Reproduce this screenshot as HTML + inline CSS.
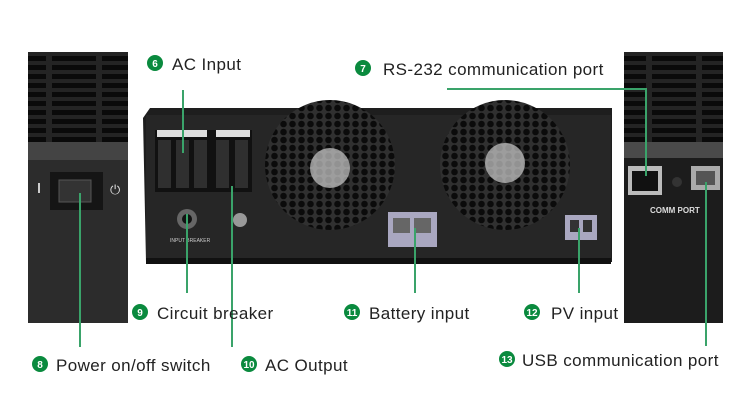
<!DOCTYPE html>
<html><head><meta charset="utf-8"><style>
body{margin:0;width:750px;height:400px;background:#fff;overflow:hidden;position:relative;font-family:"Liberation Sans",sans-serif}
</style></head><body>
<svg width="750" height="400" viewBox="0 0 750 400" xmlns="http://www.w3.org/2000/svg" style="position:absolute;left:0;top:0">
<defs>
<pattern id="hex" width="9" height="8" patternUnits="userSpaceOnUse">
<rect width="9" height="8" fill="#303030"/>
<circle cx="4.5" cy="4" r="3.3" fill="#0b0b0b"/>
</pattern>
<pattern id="grille" width="50" height="9" patternUnits="userSpaceOnUse">
<rect width="50" height="9" fill="#242424"/>
<rect x="2" y="2" width="44" height="5" fill="#0a0a0a"/>
</pattern>
</defs>
<rect x="28" y="52" width="100" height="271" fill="#2c2c2c"/>
<rect x="28" y="52" width="100" height="90" fill="url(#grille)"/>
<rect x="28" y="142" width="100" height="18" fill="#444"/>
<rect x="50" y="172" width="53" height="38" fill="#151515"/>
<rect x="59" y="180" width="32" height="22" fill="#333" stroke="#555"/>
<rect x="38" y="183" width="2" height="10" fill="#ccc"/>
<text x="110" y="194" fill="#ddd" font-size="13">⏻</text>
<rect x="624" y="52" width="99" height="271" fill="#1c1c1c"/>
<rect x="624" y="52" width="99" height="90" fill="url(#grille)"/>
<rect x="624" y="142" width="99" height="16" fill="#4a4a4a"/>
<rect x="628" y="166" width="34" height="29" fill="#bbb"/>
<rect x="632" y="171" width="26" height="20" fill="#111"/>
<circle cx="677" cy="182" r="5" fill="#333"/>
<rect x="691" y="166" width="29" height="24" fill="#aaa"/>
<rect x="696" y="171" width="19" height="14" fill="#555"/>
<text x="650" y="213" fill="#ddd" font-size="8" font-weight="bold">COMM PORT</text>
<path d="M143 118 L150 108 L612 108 L612 262 L146 262 Z" fill="#1e1e1e"/>
<rect x="146" y="115" width="465" height="147" fill="#262626"/>
<rect x="146" y="258" width="465" height="6" fill="#111"/>
<circle cx="330" cy="165" r="65" fill="url(#hex)"/>
<circle cx="505" cy="165" r="65" fill="url(#hex)"/>
<circle cx="330" cy="168" r="20" fill="#ccc" opacity=".7"/>
<circle cx="505" cy="163" r="20" fill="#ccc" opacity=".7"/>
<rect x="155" y="130" width="97" height="62" fill="#111"/>
<rect x="158" y="140" width="13" height="48" fill="#2f2f2f"/>
<rect x="176" y="140" width="13" height="48" fill="#2f2f2f"/>
<rect x="194" y="140" width="13" height="48" fill="#2f2f2f"/>
<rect x="216" y="140" width="13" height="48" fill="#2f2f2f"/>
<rect x="235" y="140" width="13" height="48" fill="#2f2f2f"/>
<rect x="157" y="130" width="50" height="7" fill="#ddd"/>
<rect x="216" y="130" width="34" height="7" fill="#ddd"/>
<circle cx="187" cy="219" r="10" fill="#666"/><circle cx="187" cy="219" r="5" fill="#111"/>
<circle cx="240" cy="220" r="7" fill="#999"/>
<text x="170" y="242" fill="#ccc" font-size="5">INPUT BREAKER</text>
<rect x="388" y="212" width="49" height="35" fill="#a9a7c0"/>
<rect x="393" y="218" width="17" height="15" fill="#666"/><rect x="414" y="218" width="17" height="15" fill="#666"/>
<rect x="565" y="215" width="32" height="25" fill="#a9a7c0"/>
<rect x="570" y="220" width="9" height="12" fill="#333"/><rect x="583" y="220" width="9" height="12" fill="#333"/>
<g stroke="#3aa36a" stroke-width="2" fill="none">
<line x1="183" y1="90" x2="183" y2="153"/>
<polyline points="447,89 646,89 646,176"/>
<line x1="187" y1="214" x2="187" y2="293"/>
<line x1="415" y1="228" x2="415" y2="293"/>
<line x1="579" y1="228" x2="579" y2="293"/>
<line x1="80" y1="193" x2="80" y2="347"/>
<line x1="232" y1="186" x2="232" y2="347"/>
<line x1="706" y1="182" x2="706" y2="346"/>
</g>
<g fill="#0a8a3e">
<circle cx="155" cy="63" r="8"/><circle cx="363" cy="68" r="8"/>
<circle cx="140" cy="312" r="8"/><circle cx="352" cy="312" r="8"/><circle cx="532" cy="312" r="8"/>
<circle cx="40" cy="364" r="8"/><circle cx="249" cy="364" r="8"/><circle cx="507" cy="359" r="8"/>
</g>
<g fill="#fff" font-size="10" font-weight="bold" text-anchor="middle">
<text x="155" y="67">6</text><text x="363" y="72">7</text>
<text x="140" y="316">9</text><text x="352" y="316">11</text><text x="532" y="316">12</text>
<text x="40" y="368">8</text><text x="249" y="368">10</text><text x="507" y="363">13</text>
</g>
<g fill="#222" font-size="17" letter-spacing="0.4">
<text x="172" y="70">AC Input</text>
<text x="383" y="75">RS-232 communication port</text>
<text x="157" y="319">Circuit breaker</text>
<text x="369" y="319">Battery input</text>
<text x="551" y="319">PV input</text>
<text x="56" y="371">Power on/off switch</text>
<text x="265" y="371">AC Output</text>
<text x="522" y="366">USB communication port</text>
</g>
</svg>
</body></html>
